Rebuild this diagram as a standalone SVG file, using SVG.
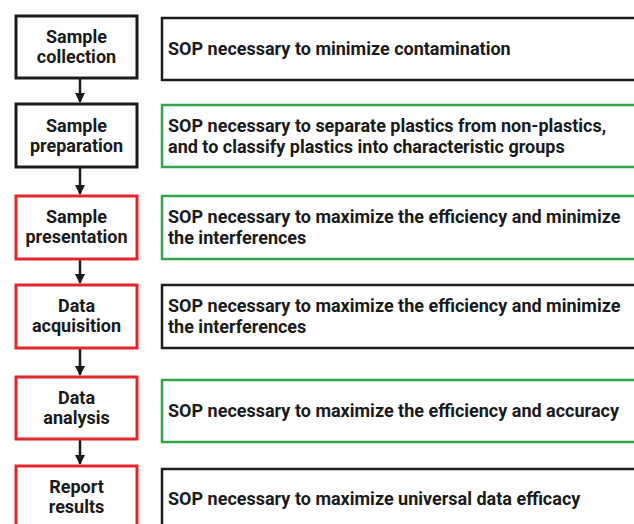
<svg xmlns="http://www.w3.org/2000/svg" width="634" height="524" viewBox="0 0 634 524">
<defs>
<marker id="ah" viewBox="0 0 10 10" refX="9" refY="5" markerWidth="4" markerHeight="4" markerUnits="strokeWidth" orient="auto">
<path d="M0,0 L10,5 L0,10 z" fill="#1a1a1a"/>
</marker>
<style>
.step{fill:#fff;stroke-width:3}
.sop{fill:#fff;stroke-width:2.5}
.k{stroke:#1c1c1c}
.r{stroke:#e2262b}
.g{stroke:#32a54a}
text{font-family:Roboto,"Liberation Sans",sans-serif;font-weight:bold;font-size:18px;fill:#1a1a1a}
.c{text-anchor:middle}
.conn{stroke:#1a1a1a;stroke-width:2.5;fill:none}
</style>
</defs>
<rect width="634" height="524" fill="#fff"/>
<g id="connectors">
<line class="conn" x1="80" y1="79" x2="80" y2="102" marker-end="url(#ah)"/>
<line class="conn" x1="80" y1="168" x2="80" y2="194" marker-end="url(#ah)"/>
<line class="conn" x1="80" y1="260" x2="80" y2="283" marker-end="url(#ah)"/>
<line class="conn" x1="80" y1="349" x2="80" y2="375" marker-end="url(#ah)"/>
<line class="conn" x1="80" y1="440" x2="80" y2="464" marker-end="url(#ah)"/>
</g>
<g id="step1"><rect class="step k" x="16" y="16" width="121" height="62"/><text class="c" x="76.5" y="43">Sample</text><text class="c" x="76.5" y="63">collection</text></g>
<g id="step2"><rect class="step k" x="16" y="104" width="121" height="63"/><text class="c" x="76.5" y="132">Sample</text><text class="c" x="76.5" y="152">preparation</text></g>
<g id="step3"><rect class="step r" x="16" y="196" width="121" height="63"/><text class="c" x="76.5" y="223">Sample</text><text class="c" x="76.5" y="243">presentation</text></g>
<g id="step4"><rect class="step r" x="16" y="285" width="121" height="63"/><text class="c" x="76.5" y="312">Data</text><text class="c" x="76.5" y="332">acquisition</text></g>
<g id="step5"><rect class="step r" x="16" y="377" width="121" height="62"/><text class="c" x="76.5" y="404">Data</text><text class="c" x="76.5" y="424">analysis</text></g>
<g id="step6"><rect class="step r" x="16" y="466" width="121" height="70"/><text class="c" x="76.5" y="493">Report</text><text class="c" x="76.5" y="513">results</text></g>
<g id="sop1"><rect class="sop k" x="162" y="18" width="480" height="62"/><text x="168" y="55">SOP necessary to minimize contamination</text></g>
<g id="sop2"><rect class="sop g" x="162" y="105" width="480" height="62"/><text x="168" y="132">SOP necessary to separate plastics from non-plastics,</text><text x="168" y="153">and to classify plastics into characteristic groups</text></g>
<g id="sop3"><rect class="sop g" x="162" y="196" width="480" height="63"/><text x="168" y="223">SOP necessary to maximize the efficiency and minimize</text><text x="168" y="244">the interferences</text></g>
<g id="sop4"><rect class="sop k" x="162" y="285" width="480" height="63"/><text x="168" y="312">SOP necessary to maximize the efficiency and minimize</text><text x="168" y="333">the interferences</text></g>
<g id="sop5"><rect class="sop g" x="162" y="380" width="480" height="62"/><text x="168" y="417">SOP necessary to maximize the efficiency and accuracy</text></g>
<g id="sop6"><rect class="sop k" x="162" y="469" width="480" height="70"/><text x="168" y="505">SOP necessary to maximize universal data efficacy</text></g>
</svg>
